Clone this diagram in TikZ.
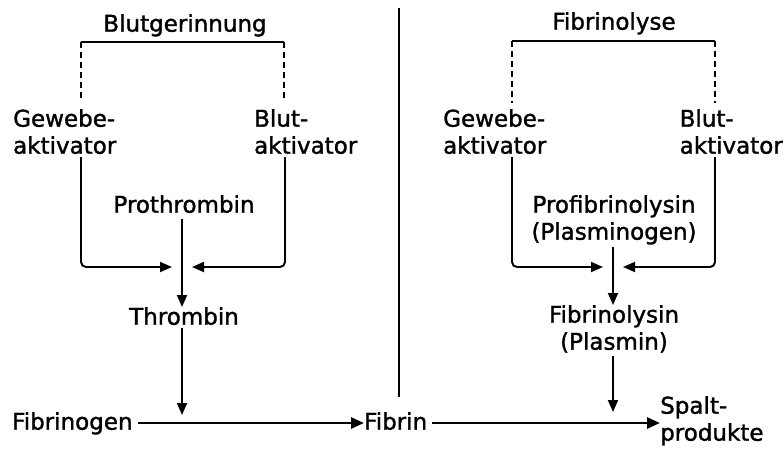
\documentclass[tikz,border=0pt]{standalone}
\usepackage{fontspec}
\setmainfont[FakeBold=1.4]{DejaVu Sans}
\usetikzlibrary{arrows.meta}
\begin{document}
\begin{tikzpicture}[x=1pt,y=-1pt,
  lbl/.style={inner sep=0pt,font=\fontsize{23}{27}\selectfont},
  arr/.style={line width=1.9pt,-{Triangle[length=12pt,width=10pt]}},
  mainarr/.style={line width=2.8pt,-{Triangle[length=13pt,width=11pt]}},
  dashline/.style={line width=1.4pt,dash pattern=on 6pt off 4pt}]
\useasboundingbox[fill=white] (0,0) rectangle (784,450);

% divider
\coordinate (dv1) at (399,8); \coordinate (dv2) at (399,397);
\draw[line width=2pt] (dv1) -- (dv2);

% ---------- left: Blutgerinnung ----------
\node[lbl,anchor=north] (bg) at (185,14) {Blutgerinnung};
\coordinate (tL1) at (81,42); \coordinate (tL2) at (284,42);
\draw[line width=2.4pt] (tL1) -- (tL2);
\coordinate (dL1) at (81,100); \coordinate (dL2) at (284,100);
\draw[dashline] (tL1) -- (dL1);
\draw[dashline] (tL2) -- (dL2);
\node[lbl,anchor=north west,align=left] (gwL) at (13,109) {Gewebe-\\aktivator};
\node[lbl,anchor=north west,align=left] (blL) at (254,109) {Blut-\\aktivator};
\node[lbl,anchor=north] (proth) at (184,195) {Prothrombin};
\node[lbl,anchor=north] (thromb) at (184,307) {Thrombin};
\coordinate (sL1) at (81,157); \coordinate (sL2) at (285,157);
\coordinate (mL1) at (172,267); \coordinate (mL2) at (192,267);
\draw[arr,rounded corners=5pt] (sL1) |- (mL1);
\draw[arr,rounded corners=5pt] (sL2) |- (mL2);
\draw[arr] (proth.south -| 182,0) ++(0,6) -- (thromb.north -| 182,0);

% ---------- right: Fibrinolyse ----------
\node[lbl,anchor=north] (fl) at (614,12) {Fibrinolyse};
\coordinate (tR1) at (512,41); \coordinate (tR2) at (715,41);
\draw[line width=2.4pt] (tR1) -- (tR2);
\coordinate (dR1) at (512,103); \coordinate (dR2) at (715,103);
\draw[dashline] (tR1) -- (dR1);
\draw[dashline] (tR2) -- (dR2);
\node[lbl,anchor=north west,align=left] (gwR) at (443,109) {Gewebe-\\aktivator};
\node[lbl,anchor=north east,align=left] (blR) at (783,109) {Blut-\\aktivator};
\node[lbl,anchor=north,align=center] (profib) at (614,195) {Profibrinolysin\\(Plasminogen)};
\node[lbl,anchor=north,align=center] (fibrinol) at (614,305) {Fibrinolysin\\(Plasmin)};
\coordinate (sR1) at (512,157); \coordinate (sR2) at (715,157);
\coordinate (mR1) at (603,267); \coordinate (mR2) at (623,267);
\draw[arr,rounded corners=5pt] (sR1) |- (mR1);
\draw[arr,rounded corners=5pt] (sR2) |- (mR2);
\draw[arr] (profib.south -| 613,0) ++(0,2) -- (fibrinol.north -| 613,0);

% ---------- bottom row ----------
\node[lbl,anchor=north west] (fibrinogen) at (12,412) {Fibrinogen};
\node[lbl,anchor=north west] (fibrin) at (364,412) {Fibrin};
\node[lbl,anchor=north west,align=left] (spalt) at (660,396) {Spalt-\\produkte};
\draw[mainarr] (fibrinogen.east |- 0,423) ++(5,0) -- (fibrin.west |- 0,423);
\draw[mainarr] (fibrin.east |- 0,423) ++(5,0) -- (spalt.west |- 0,423);
\coordinate (thE) at (182,415);
\draw[arr] (thromb.south -| 182,0) ++(0,3) -- (thE);
\coordinate (plE) at (613,412);
\draw[arr] (fibrinol.south -| 613,0) ++(0,3) -- (plE);
\end{tikzpicture}
\end{document}
